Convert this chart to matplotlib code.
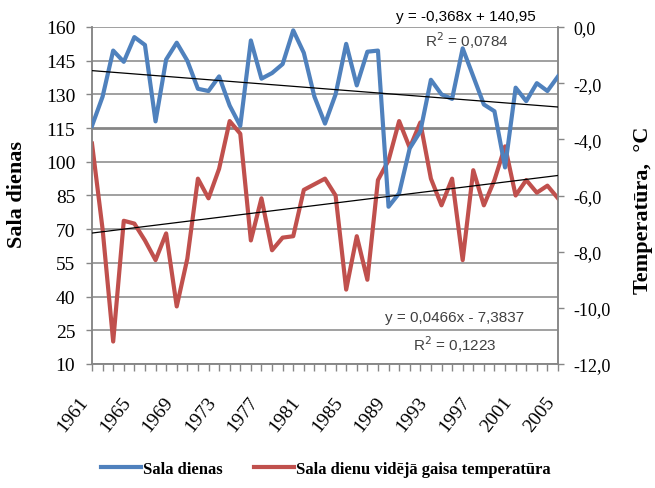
import matplotlib
matplotlib.use("Agg")
import matplotlib.pyplot as plt
from matplotlib.ticker import FixedLocator, MultipleLocator
import numpy as np

# ---- data ----
years = list(range(1961, 2006))
sala_dienas = [116, 129, 149.5, 144.5, 155.5, 152, 118, 145.5, 153, 145,
               132.5, 131.5, 138, 125, 116, 154, 137, 139.5, 143.5, 158.5,
               148.5, 129, 117, 130, 152.5, 134, 149, 149.5, 80, 86,
               106, 113.5, 136.5, 130, 128, 150.5, 138, 125.5, 122.5, 97.5,
               133, 127, 135, 131.5, 138]
temperatura = [-4.15, -7.2, -11.2, -6.9, -7.0, -7.6, -8.3, -7.35, -9.95, -8.25,
               -5.4, -6.1, -5.05, -3.35, -3.8, -7.6, -6.1, -7.95, -7.5, -7.45,
               -5.8, -5.6, -5.4, -6.0, -9.35, -7.45, -9.0, -5.45, -4.75, -3.35,
               -4.3, -3.4, -5.4, -6.35, -5.4, -8.3, -5.1, -6.35, -5.45, -4.25,
               -6.0, -5.45, -5.9, -5.65, -6.1]
# trend line equations shown on the chart (x = 1..45)
trend_blue = (-0.368, 140.95)
trend_red = (0.0466, -7.3837)
label_blue = "Sala dienas"
label_red = "Sala dienu vidējā gaisa temperatūra"
eq_blue = "y = -0,368x + 140,95"
r2_blue = "R$^2$ = 0,0784"
eq_red = "y = 0,0466x - 7,3837"
r2_red = "R$^2$ = 0,1223"
left_ticks = list(range(10, 161, 15))
right_ticks = list(range(-12, 1, 2))
xlabel_years = list(range(1961, 2006, 4))

BLUE = "#4F81BD"
RED = "#C0504D"
GRID = "#868686"
SERIF = ["Liberation Serif", "DejaVu Serif"]
SANS = ["Liberation Sans", "DejaVu Sans"]

W, H = 655, 489
fig = plt.figure(figsize=(W / 100, H / 100), dpi=100)
l, r, t, b = 92, 558, 28, 365
ax = fig.add_axes([l / W, 1 - b / H, (r - l) / W, (b - t) / H])

ax.set_xlim(years[0], years[-1])
ax.set_ylim(10, 160)
ax.yaxis.set_major_locator(FixedLocator(left_ticks))
ax.set_yticklabels([str(v) for v in left_ticks], family=SERIF, fontsize=14)
for v in left_ticks:
    ax.axhline(v, color=GRID, lw=2.0 if v == 115 else 1.1, zorder=0)

ax.xaxis.set_major_locator(FixedLocator(xlabel_years))
ax.xaxis.set_minor_locator(MultipleLocator(1))
ax.set_xticklabels([str(y) for y in xlabel_years], family=SERIF, fontsize=14,
                   rotation=52, ha="right", va="top")
ax.tick_params(axis="x", which="both", length=5, color=GRID, width=1)
ax.tick_params(axis="x", which="major", pad=16)
ax.tick_params(axis="y", length=4, color=GRID, width=1, pad=8)
for name, s in ax.spines.items():
    s.set_color(GRID)
    s.set_linewidth(1.1)
ax.spines["top"].set_visible(False)

# right axis with red series
axr = ax.twinx()
axr.set_ylim(-12, 0)
axr.yaxis.set_major_locator(FixedLocator(right_ticks))
axr.set_yticklabels([("%.1f" % v).replace(".", ",") for v in right_ticks],
                    family=SERIF, fontsize=13)
axr.tick_params(axis="y", length=4, color=GRID, width=1, pad=7)
for name, s in axr.spines.items():
    s.set_color(GRID)
    s.set_linewidth(1.1)
axr.spines["top"].set_visible(False)
red_line, = axr.plot(years, temperatura, color=RED, lw=3.0,
                     solid_joinstyle="round", label=label_red)

# blue series on top
axb = ax.twinx()
axb.set_ylim(10, 160)
axb.set_yticks([])
for s in axb.spines.values():
    s.set_visible(False)
blue_line, = axb.plot(years, sala_dienas, color=BLUE, lw=3.0,
                      solid_joinstyle="round", label=label_blue)
xi = np.arange(1, len(years) + 1)
axb.plot(years, trend_blue[0] * xi + trend_blue[1], color="black", lw=0.9)

axt = ax.twinx()
axt.set_ylim(-12, 0)
axt.set_yticks([])
for s in axt.spines.values():
    s.set_visible(False)
axt.plot(years, trend_red[0] * xi + trend_red[1], color="black", lw=0.9)

# annotations
fig.text(466 / W, 1 - 17 / H, eq_blue, family=SANS, fontsize=11,
         color="black", ha="center", va="center")
fig.text(467 / W, 1 - 41 / H, r2_blue, family=SANS, fontsize=11,
         color="#404040", ha="center", va="center")
fig.text(455 / W, 1 - 318 / H, eq_red, family=SANS, fontsize=11,
         color="#404040", ha="center", va="center")
fig.text(455 / W, 1 - 345 / H, r2_red, family=SANS, fontsize=11,
         color="#404040", ha="center", va="center")

# axis titles
fig.text(17 / W, 1 - 195 / H, "Sala dienas", family=SERIF, fontsize=16,
         fontweight="bold", rotation=90, ha="center", va="center")
fig.text(643 / W, 1 - 210 / H, "Temperatūra,  °C", family=SERIF, fontsize=16,
         fontweight="bold", rotation=90, ha="center", va="center")

fig.legend(handles=[blue_line, red_line], labels=[label_blue, label_red],
           loc="center", bbox_to_anchor=(326 / W, 1 - 470 / H), ncol=2,
           frameon=False, prop={"family": SERIF, "size": 12, "weight": "bold"},
           handlelength=2.4, handletextpad=0.1, columnspacing=1.9)

fig.savefig("out.png", dpi=100)
